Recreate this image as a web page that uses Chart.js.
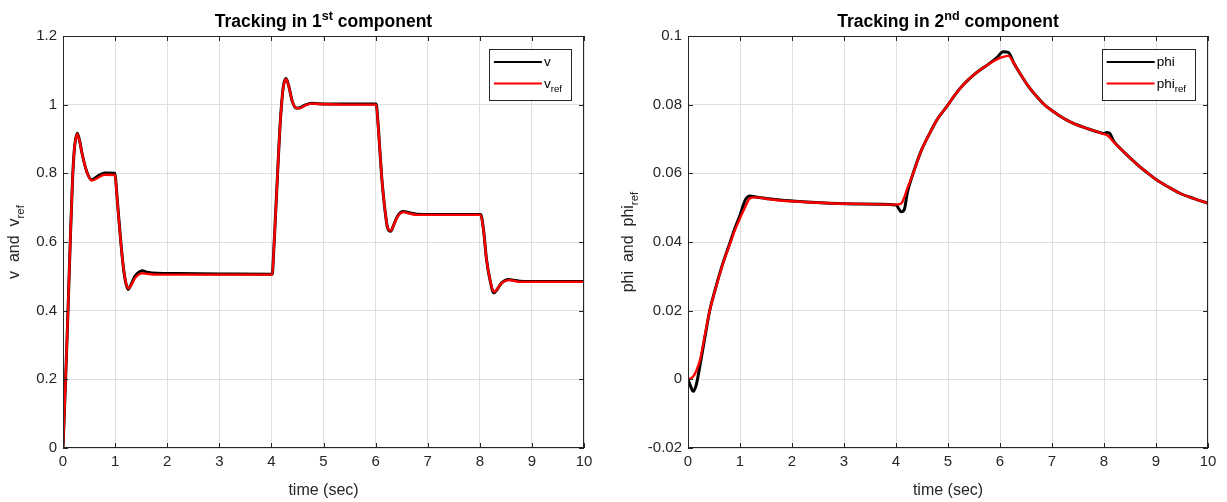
<!DOCTYPE html>
<html>
<head>
<meta charset="utf-8">
<script src="https://cdn.jsdelivr.net/npm/chart.js@4.4.0/dist/chart.umd.min.js"></script>
<style>
html, body { margin: 0; padding: 0; background: #fff; }
#wrap { position: relative; width: 1227px; height: 502px; }
canvas { position: absolute; top: 0; }
</style>
</head>
<body>
<div id="wrap">
  <canvas id="c1" width="614" height="502" style="left:0"></canvas>
  <canvas id="c2" width="613" height="502" style="left:614px"></canvas>
</div>
<script>
// ---- data ----
var xTicks = [0, 1, 2, 3, 4, 5, 6, 7, 8, 9, 10];
var vTicks = [0, 0.2, 0.4, 0.6, 0.8, 1, 1.2];
var phiTicks = [-0.02, 0, 0.02, 0.04, 0.06, 0.08, 0.1];

// 1st component: time, v (black), v_ref (red)
var tV = [0, 0.05, 0.09, 0.134, 0.18, 0.217, 0.274, 0.32, 0.36, 0.455, 0.55, 0.65, 0.8, 0.998,
  1.03, 1.094, 1.157, 1.21, 1.253, 1.3, 1.38, 1.45, 1.52, 1.62, 1.8, 2.2, 3.0, 4.017,
  4.04, 4.07, 4.1, 4.135, 4.165, 4.2, 4.23, 4.28, 4.33, 4.4, 4.48, 4.55, 4.65, 4.77, 4.9, 5.5,
  6.01, 6.05, 6.085, 6.117, 6.15, 6.18, 6.225, 6.29, 6.35, 6.42, 6.53, 6.65, 6.79, 7.5,
  8.017, 8.07, 8.13, 8.196, 8.27, 8.33, 8.42, 8.55, 8.65, 8.77, 9.2, 10];
var vRef = [0, 0.20, 0.373, 0.577, 0.771, 0.868, 0.915, 0.892, 0.862, 0.805, 0.779, 0.785, 0.796, 0.795,
  0.742, 0.625, 0.528, 0.48, 0.465, 0.472, 0.494, 0.505, 0.509, 0.507, 0.505, 0.505, 0.505, 0.505,
  0.56, 0.65, 0.742, 0.85, 0.936, 1.01, 1.052, 1.074, 1.055, 1.01, 0.99, 0.99, 0.998, 1.003, 1.002, 1.0,
  1.0, 0.936, 0.86, 0.79, 0.735, 0.693, 0.645, 0.633, 0.65, 0.673, 0.687, 0.683, 0.679, 0.679,
  0.679, 0.635, 0.548, 0.49, 0.455, 0.462, 0.48, 0.489, 0.487, 0.484, 0.484, 0.484];
var vAct = [0, 0.20, 0.373, 0.577, 0.771, 0.868, 0.917, 0.894, 0.862, 0.805, 0.781, 0.79, 0.801, 0.80,
  0.745, 0.627, 0.528, 0.478, 0.462, 0.474, 0.5, 0.511, 0.516, 0.512, 0.509, 0.508, 0.507, 0.506,
  0.56, 0.65, 0.742, 0.85, 0.936, 1.01, 1.054, 1.076, 1.056, 1.01, 0.99, 0.991, 0.999, 1.004, 1.003, 1.002,
  1.002, 0.938, 0.86, 0.79, 0.735, 0.693, 0.644, 0.631, 0.651, 0.675, 0.689, 0.685, 0.681, 0.68,
  0.68, 0.637, 0.548, 0.489, 0.452, 0.461, 0.481, 0.491, 0.489, 0.486, 0.485, 0.485];

// 2nd component: time, phi (black), phi_ref (red)
var tP = [0, 0.05, 0.1, 0.16, 0.23, 0.32, 0.42, 0.52, 0.615, 0.71, 0.81, 0.9, 1.0, 1.1, 1.19, 1.3, 1.5,
  1.77, 2.2, 2.73, 3.3, 4.0, 4.1, 4.16, 4.22, 4.33, 4.48, 4.65, 4.8, 4.975, 5.13, 5.29, 5.45, 5.615,
  5.78, 5.94, 6.06, 6.16, 6.27, 6.385, 6.54, 6.71, 6.86, 7.025, 7.18, 7.35, 7.5, 7.67, 7.85, 8.0,
  8.05, 8.1, 8.18, 8.31, 8.5, 8.69, 8.85, 9.01, 9.23, 9.46, 9.72, 10];
var phiRef = [0, 0.0002, 0.0008, 0.0025, 0.0056, 0.0125, 0.0202, 0.0258, 0.0309, 0.0354, 0.0396, 0.0434,
  0.0469, 0.0502, 0.0527, 0.053, 0.0526, 0.0521, 0.0517, 0.0513, 0.0511, 0.0509, 0.0512, 0.053, 0.0557,
  0.06, 0.0664, 0.0717, 0.0759, 0.0794, 0.0828, 0.0857, 0.0881, 0.0901, 0.0918, 0.0932, 0.0939, 0.0942,
  0.092, 0.0891, 0.0855, 0.0823, 0.0799, 0.078, 0.0764, 0.075, 0.074, 0.0731, 0.0722, 0.0714,
  0.0712, 0.0706, 0.0692, 0.0673, 0.0645, 0.0619, 0.06, 0.0581, 0.0561, 0.0542, 0.0527, 0.0513];
var phiAct = [0, -0.002, -0.0035, -0.0015, 0.004, 0.0118, 0.0202, 0.026, 0.0311, 0.0356, 0.0399, 0.0439,
  0.0478, 0.0522, 0.0534, 0.0531, 0.0527, 0.0522, 0.0517, 0.0513, 0.0511, 0.0508, 0.0488, 0.0495, 0.0545,
  0.06, 0.0664, 0.0717, 0.0759, 0.0794, 0.0828, 0.0857, 0.0881, 0.0901, 0.0918, 0.0937, 0.0954, 0.0952,
  0.092, 0.0891, 0.0855, 0.0823, 0.0799, 0.078, 0.0764, 0.075, 0.074, 0.0731, 0.0722, 0.0716,
  0.0719, 0.0718, 0.0695, 0.0673, 0.0645, 0.0619, 0.06, 0.0581, 0.0561, 0.0542, 0.0527, 0.0513];

// ---- style ----
var FONT = "'Liberation Sans', Arial, Helvetica, sans-serif";
var axisColor = '#262626';
var gridColor = '#dfdfdf';
var tickSize = 15, labelSize = 16, titleSize = 17.5, legendSize = 13.5;

// text made of normal / sub / sup pieces
function richWidth(ctx, segs, size, bold) {
  var w = 0;
  segs.forEach(function (s) {
    var fs = s[1] ? size * 0.72 : size;
    ctx.font = (bold ? 'bold ' : '') + fs + 'px ' + FONT;
    w += ctx.measureText(s[0]).width;
  });
  return w;
}
function drawRich(ctx, segs, x, y, size, bold, align) {
  var w = richWidth(ctx, segs, size, bold);
  var cx = align === 'left' ? x : x - w / 2;
  ctx.textBaseline = 'alphabetic';
  ctx.textAlign = 'left';
  segs.forEach(function (s) {
    var fs = s[1] ? size * 0.72 : size;
    var dy = s[1] === 'sub' ? size * 0.3 : (s[1] === 'sup' ? -size * 0.42 : 0);
    ctx.font = (bold ? 'bold ' : '') + fs + 'px ' + FONT;
    ctx.fillText(s[0], cx, y + dy);
    cx += ctx.measureText(s[0]).width;
  });
  return w;
}

var matlabLook = {
  id: 'matlabLook',
  afterDraw: function (chart, args, o) {
    var ctx = chart.ctx, a = chart.chartArea;
    var xs = chart.scales.x, ys = chart.scales.y;
    ctx.save();
    // box
    ctx.strokeStyle = axisColor;
    ctx.lineWidth = 1;
    ctx.strokeRect(a.left + 0.5, a.top + 0.5, a.right - a.left - 1, a.bottom - a.top - 1);
    // inward ticks
    ctx.beginPath();
    xTicks.forEach(function (v) {
      var px = Math.round(xs.getPixelForValue(v)) + 0.5;
      ctx.moveTo(px, a.bottom); ctx.lineTo(px, a.bottom - 5);
      ctx.moveTo(px, a.top); ctx.lineTo(px, a.top + 5);
    });
    o.yTicks.forEach(function (v) {
      var py = Math.round(ys.getPixelForValue(v)) + 0.5;
      ctx.moveTo(a.left, py); ctx.lineTo(a.left + 5, py);
      ctx.moveTo(a.right, py); ctx.lineTo(a.right - 5, py);
    });
    ctx.stroke();

    ctx.fillStyle = '#000';
    var mid = (a.left + a.right) / 2;
    drawRich(ctx, o.title, mid, 27, titleSize, true);
    ctx.fillStyle = axisColor;
    drawRich(ctx, [['time (sec)']], mid, 495, labelSize, false);
    ctx.save();
    ctx.translate(o.ylabelX, (a.top + a.bottom) / 2);
    ctx.rotate(-Math.PI / 2);
    drawRich(ctx, o.ylabel, 0, 0, labelSize, false);
    ctx.restore();

    // legend
    var tw = 0;
    o.legend.forEach(function (e) { tw = Math.max(tw, richWidth(ctx, e.label, legendSize, false)); });
    var bw = 58 + tw + 6, bh = 51;
    var bx = a.right - 13 - bw, by = a.top + 13;
    ctx.fillStyle = '#fff';
    ctx.fillRect(bx, by, bw, bh);
    ctx.strokeStyle = axisColor;
    ctx.lineWidth = 1;
    ctx.strokeRect(Math.round(bx) + 0.5, by + 0.5, Math.round(bw), bh);
    o.legend.forEach(function (e, i) {
      var ly = by + 13 + i * 21.5;
      ctx.strokeStyle = e.color;
      ctx.lineWidth = 2.2;
      ctx.beginPath();
      ctx.moveTo(bx + 5, ly); ctx.lineTo(bx + 53, ly);
      ctx.stroke();
      ctx.fillStyle = '#000';
      drawRich(ctx, e.label, bx + 55, ly + 4, legendSize, false, 'left');
    });
    ctx.restore();
  }
};

function makeChart(id, t, act, ref, yMin, yMax, yTicks, yWidth, padRight, extra) {
  return new Chart(document.getElementById(id), {
    type: 'line',
    data: {
      datasets: [
        { data: t.map(function (x, i) { return { x: x, y: ref[i] }; }),
          borderColor: '#ff0000', borderWidth: 2.4, cubicInterpolationMode: 'monotone', order: 1 },
        { data: t.map(function (x, i) { return { x: x, y: act[i] }; }),
          borderColor: '#000000', borderWidth: 3, cubicInterpolationMode: 'monotone', order: 2 }
      ]
    },
    options: {
      responsive: false,
      animation: false,
      devicePixelRatio: 1,
      layout: { padding: { top: 36, right: padRight, left: 0, bottom: 0 } },
      elements: { point: { radius: 0 } },
      plugins: {
        legend: { display: false },
        tooltip: { enabled: false },
        matlabLook: Object.assign({ yTicks: yTicks }, extra)
      },
      scales: {
        x: {
          type: 'linear', min: 0, max: 10,
          afterBuildTicks: function (s) { s.ticks = xTicks.map(function (v) { return { value: v }; }); },
          afterFit: function (s) { s.height = 54; },
          ticks: { color: axisColor, font: { family: FONT, size: tickSize }, padding: 5, maxRotation: 0, autoSkip: false,
            callback: function (v) { return String(v); } },
          grid: { color: gridColor, drawTicks: false },
          border: { display: false }
        },
        y: {
          type: 'linear', min: yMin, max: yMax,
          afterBuildTicks: function (s) { s.ticks = yTicks.map(function (v) { return { value: v }; }); },
          afterFit: function (s) { s.width = yWidth; },
          ticks: { color: axisColor, font: { family: FONT, size: tickSize }, padding: 6, autoSkip: false,
            callback: function (v) { return String(Number(v.toFixed(3))); } },
          grid: { color: gridColor, drawTicks: false },
          border: { display: false }
        }
      }
    },
    plugins: [matlabLook]
  });
}

makeChart('c1', tV, vAct, vRef, 0, 1.2, vTicks, 63, 30, {
  title: [['Tracking in 1'], ['st', 'sup'], [' component']],
  ylabel: [['v  and  v'], ['ref', 'sub']],
  ylabelX: 19,
  legend: [{ label: [['v']], color: '#000' }, { label: [['v'], ['ref', 'sub']], color: '#ff0000' }]
});
makeChart('c2', tP, phiAct, phiRef, -0.02, 0.1, phiTicks, 74, 19, {
  title: [['Tracking in 2'], ['nd', 'sup'], [' component']],
  ylabel: [['phi  and  phi'], ['ref', 'sub']],
  ylabelX: 19,
  legend: [{ label: [['phi']], color: '#000' }, { label: [['phi'], ['ref', 'sub']], color: '#ff0000' }]
});
</script>
</body>
</html>
